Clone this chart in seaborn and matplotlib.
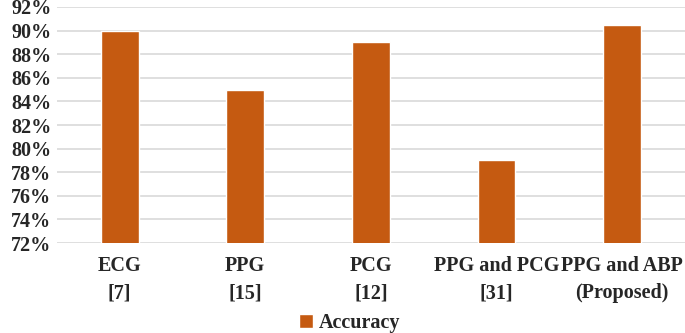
import pandas as pd
import seaborn as sns
import matplotlib.pyplot as plt
from matplotlib.ticker import FuncFormatter
from matplotlib.patches import Patch

categories = ["ECG\n[7]", "PPG\n[15]", "PCG\n[12]", "PPG and PCG\n[31]", "PPG and ABP\n(Proposed)"]
accuracy = [90, 85, 89, 79, 90.5]
y_ticks = [72, 74, 76, 78, 80, 82, 84, 86, 88, 90, 92]

df = pd.DataFrame({"Method": categories, "Accuracy": accuracy})

sns.set_style("white")
plt.rcParams['font.family'] = ['Liberation Serif', 'DejaVu Serif']
plt.rcParams['font.weight'] = 'bold'

bar_color = "#C55A11"

fig = plt.figure(figsize=(6.85, 3.33), dpi=100)
ax = fig.add_axes([0.083, 0.27, 0.917, 0.709])

sns.barplot(data=df, x="Method", y="Accuracy", color=bar_color, width=0.3,
            saturation=1, ax=ax, zorder=3)

ax.set_ylim(72, 92)
ax.set_yticks(y_ticks)
ax.yaxis.set_major_formatter(FuncFormatter(lambda v, p: f"{int(v)}%"))
ax.grid(axis="y", color="#D9D9D9", linewidth=1.2, zorder=0)
ax.set_axisbelow(True)
for s in ax.spines.values():
    s.set_visible(False)
ax.tick_params(axis="both", length=0, labelsize=14.5)
ax.tick_params(axis="x", pad=9)
ax.tick_params(axis="y", pad=4)
for lab in ax.get_xticklabels():
    lab.set_fontweight("bold")
    lab.set_linespacing(1.5)
for lab in ax.get_yticklabels():
    lab.set_fontweight("bold")
ax.set_xlabel("")
ax.set_ylabel("")

handle = Patch(facecolor=bar_color, label="Accuracy")
fig.legend(handles=[handle], loc="lower center", bbox_to_anchor=(0.51, -0.055),
           frameon=False, prop={"size": 14.5, "weight": "bold"},
           handlelength=0.7, handleheight=0.7, handletextpad=0.3)

fig.savefig("out.png", dpi=100)
